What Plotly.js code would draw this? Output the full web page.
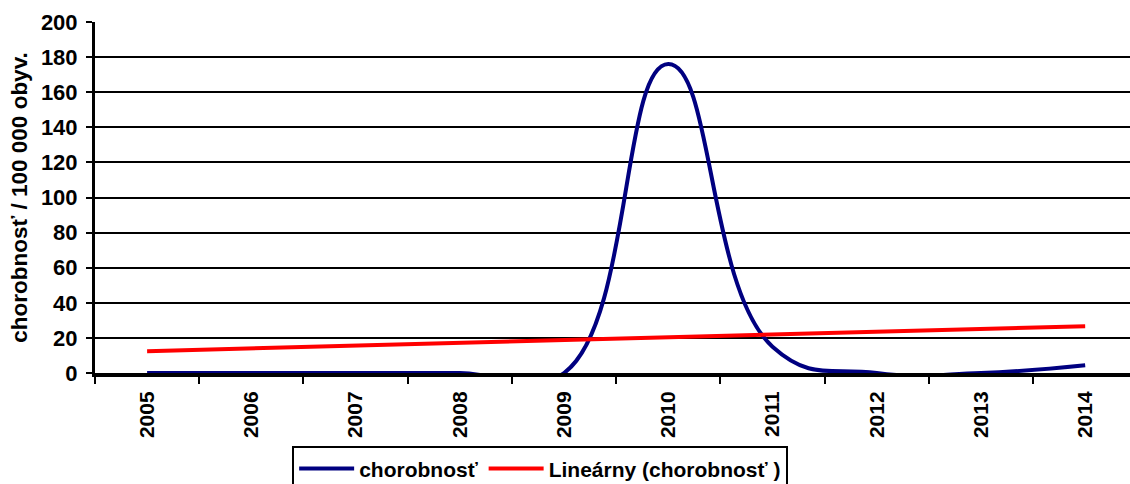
<!DOCTYPE html>
<html>
<head>
<meta charset="utf-8">
<script src="https://cdn.plot.ly/plotly-3.0.1.min.js"></script>
<style>html,body{margin:0;padding:0;background:#fff;}#chart{width:1130px;height:484px;}</style>
</head>
<body>
<div id="chart"></div>
<script>
var years = ['2005','2006','2007','2008','2009','2010','2011','2012','2013','2014'];
var chorobnost = [0, 0, 0, 0, 0, 176, 15, 0, 0, 4.4];
var yTicks = [0, 20, 40, 60, 80, 100, 120, 140, 160, 180, 200];

// linear trend (least squares) computed from the data
var n = chorobnost.length;
var xs = chorobnost.map(function(_, i){ return i; });
var mx = xs.reduce(function(a,b){return a+b;},0)/n;
var my = chorobnost.reduce(function(a,b){return a+b;},0)/n;
var sxy = 0, sxx = 0;
for (var i = 0; i < n; i++) { sxy += (xs[i]-mx)*(chorobnost[i]-my); sxx += (xs[i]-mx)*(xs[i]-mx); }
var slope = sxy/sxx, icpt = my - slope*mx;
var trend = xs.map(function(x){ return icpt + slope*x; });

var font = 'Liberation Sans, Arial, sans-serif';
var data = [
  {x: years, y: chorobnost, type: 'scatter', mode: 'lines', name: 'chorobnosť',
   line: {color: '#000080', width: 4, shape: 'spline', smoothing: 1.3}},
  {x: years, y: trend, type: 'scatter', mode: 'lines', name: 'Lineárny (chorobnosť )',
   line: {color: '#FF0000', width: 4}}
];
var layout = {
  width: 1130, height: 484,
  margin: {l: 95, r: 0, t: 22, b: 111},
  paper_bgcolor: '#fff', plot_bgcolor: '#fff',
  font: {family: font, size: 20, color: '#000'},
  showlegend: true,
  legend: {orientation: 'h', xref: 'container', yref: 'container',
           x: 0.478, xanchor: 'center', y: 0.078, yanchor: 'top',
           itemwidth: 55,
           bordercolor: '#000', borderwidth: 2, bgcolor: '#fff',
           font: {family: font, size: 21, color: '#000', weight: 'bold'}},
  xaxis: {type: 'category', range: [-0.5, 9.43], tickson: 'boundaries',
          ticks: 'outside', ticklen: 7, tickwidth: 2, tickcolor: '#000',
          tickangle: -90, showgrid: false, showline: true, linecolor: '#000', linewidth: 4,
          automargin: false, ticklabelstandoff: 6,
          tickfont: {family: font, size: 21, color: '#000', weight: 'bold'}, zeroline: false},
  yaxis: {range: [0, 200], tickvals: yTicks, ticktext: yTicks.map(String),
          ticks: 'outside', ticklen: 6, tickwidth: 2, tickcolor: '#000',
          showgrid: true, gridcolor: '#000', gridwidth: 2, automargin: false,
          showline: true, linecolor: '#000', linewidth: 3, zeroline: false,
          ticklabelstandoff: 4,
          tickfont: {family: font, size: 22, color: '#000', weight: 'bold'},
          title: {text: 'chorobnosť / 100 000 obyv.', standoff: 8,
                  font: {family: font, size: 22.5, color: '#000', weight: 'bold'}}}
};
Plotly.newPlot('chart', data, layout, {displayModeBar: false, staticPlot: true});
</script>
</body>
</html>
